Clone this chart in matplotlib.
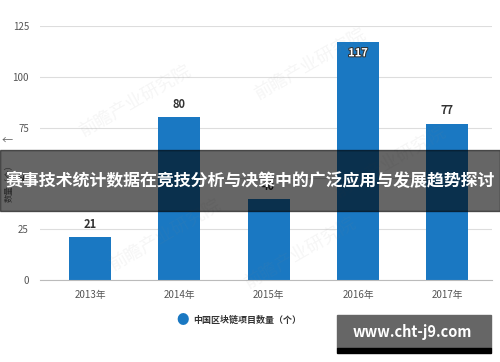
import matplotlib.pyplot as plt
import matplotlib.patheffects as pe
from matplotlib.patches import Rectangle

plt.rcParams["font.family"] = ["Noto Sans CJK SC", "DejaVu Sans"]

years = ["2013年", "2014年", "2015年", "2016年", "2017年"]
projects = [21, 80, 40, 117, 77]
y_ticks = [0, 25, 50, 75, 100, 125]

bar_color = "#1a78c2"

fig = plt.figure(figsize=(5, 3.62), dpi=100)
ax = fig.add_axes([0.08, 0.2265, 0.904, 0.7017])

x = range(len(years))
ax.bar(x, projects, width=0.47, color=bar_color, zorder=2)

for i, v in enumerate(projects):
    if v > 110:
        ax.text(i, v - 2, str(v), ha="center", va="top", fontsize=8,
                fontweight="bold", color="white",
                path_effects=[pe.withStroke(linewidth=1.5, foreground="#333333")])
    else:
        ax.text(i, v + 3, str(v), ha="center", va="bottom", fontsize=8,
                fontweight="bold", color="#333333")

ax.set_xlim(-0.56, 4.5)
ax.set_ylim(0, 125)
ax.set_yticks(y_ticks)
ax.set_xticks(list(x))
ax.set_xticklabels(years)
ax.tick_params(axis="both", length=0, labelsize=7, colors="#555555")
ax.tick_params(axis="x", pad=7)
ax.tick_params(axis="y", pad=8)
ax.grid(axis="y", color="#dddddd", linewidth=0.8, zorder=0)
for s in ["top", "right", "left"]:
    ax.spines[s].set_visible(False)
ax.spines["bottom"].set_color("#bbbbbb")

# faint watermarks
for wx, wy in [(0.27, 0.72), (0.62, 0.82), (0.78, 0.55), (0.33, 0.35), (0.6, 0.3)]:
    fig.text(wx, wy, "前瞻产业研究院", fontsize=13, color="#888888", alpha=0.08,
             rotation=30, ha="center", va="center")

# left y label
fig.text(0.015, 0.61, "←", fontsize=8, color="#666666", ha="center", va="center")
fig.text(0.018, 0.5, "数量（个）", fontsize=6, color="#666666", rotation=90,
         ha="center", va="center")

# legend
fig.text(0.366, 0.116, "●", fontsize=9, color=bar_color, ha="center", va="center")
fig.text(0.386, 0.116, "中国区块链项目数量（个）", fontsize=6.5, fontweight="bold",
         color="#333333", ha="left", va="center")

# title banner overlay
fig.patches.append(Rectangle((0, 1 - 211 / 362), 1, 61 / 362, transform=fig.transFigure,
                             color="black", alpha=0.6, zorder=5))
fig.text(0.5, 1 - 181 / 362, "赛事技术统计数据在竞技分析与决策中的广泛应用与发展趋势探讨",
         fontsize=12.2, fontweight="bold", color="white", ha="center", va="center", zorder=6)

# url box
fig.text(0.9, 0.11, "前瞻经济学人APP", fontsize=6, color="#555555", ha="right", va="center")
fig.patches.append(Rectangle((337 / 500, 1 - 348 / 362), 154 / 500, 33 / 362,
                             transform=fig.transFigure, color="#666666", zorder=5))
fig.patches.append(Rectangle((337 / 500, 1 - 353 / 362), 154 / 500, 5 / 362,
                             transform=fig.transFigure, color="black", zorder=5))
fig.text(412 / 500, 1 - 332 / 362, "www.cht-j9.com", fontsize=10.5, fontweight="bold",
         color="white", ha="center", va="center", zorder=6)

fig.savefig("out.png", dpi=100)
